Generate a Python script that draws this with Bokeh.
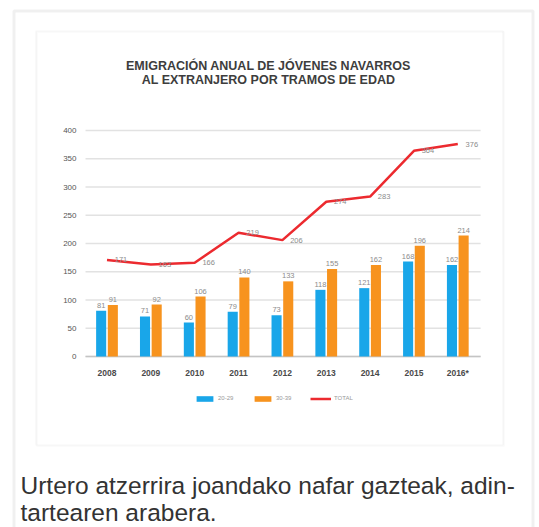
from bokeh.plotting import figure
from bokeh.models import (ColumnDataSource, Range1d, Label, BoxAnnotation,
                          Legend, LegendItem)
from bokeh.transform import dodge
from bokeh.core.properties import value
from bokeh.embed import file_html
from bokeh.resources import INLINE

# ---- data ----
years = ["2008", "2009", "2010", "2011", "2012", "2013", "2014", "2015", "2016*"]
age_20_29 = [81, 71, 60, 79, 73, 118, 121, 168, 162]
age_30_39 = [91, 92, 106, 140, 133, 155, 162, 196, 214]
total = [171, 163, 166, 219, 206, 274, 283, 364, 376]
y_ticks = [0, 50, 100, 150, 200, 250, 300, 350, 400]
series_names = ["20-29", "30-39", "TOTAL"]
title_lines = ["EMIGRACIÓN ANUAL DE JÓVENES NAVARROS",
               "AL EXTRANJERO POR TRAMOS DE EDAD"]
caption_lines = ["Urtero atzerrira joandako nafar gazteak, adin-",
                 "tartearen arabera."]

BLUE = "#19a6e9"
ORANGE = "#f7931e"
RED = "#ec2a2f"
FONT = "Liberation Sans"

W, H = 539, 527
PX_X = 43.85          # pixels per category step
PX_Y = 0.565          # pixels per unit of value
X0_PAGE, Y0_PAGE = 106.5, 356.0   # page position of first category / zero

pos = list(range(len(years)))
src = ColumnDataSource(dict(
    x=pos, year=years,
    a=age_20_29, a_s=[str(v) for v in age_20_29],
    b=age_30_39, b_s=[str(v) for v in age_30_39],
    t=total, t_s=[str(v) for v in total],
))

p = figure(width=W, height=H,
           x_range=Range1d(-X0_PAGE / PX_X, (W - X0_PAGE) / PX_X),
           y_range=Range1d(-(H - Y0_PAGE) / PX_Y, Y0_PAGE / PX_Y),
           x_axis_location=None, y_axis_location=None,
           output_backend="svg", toolbar_location=None,
           min_border=0)
p.outline_line_color = None
p.grid.visible = False
p.background_fill_color = "white"
p.border_fill_color = "white"

# frames (screen units: from bottom-left of the canvas)
p.add_layout(BoxAnnotation(left=13.5, right=532.5, top=H - 10.5, bottom=-10,
                           left_units="screen", right_units="screen",
                           top_units="screen", bottom_units="screen",
                           fill_alpha=0, line_color="#cdcdcd", line_width=3,
                           level="underlay"))
p.add_layout(BoxAnnotation(left=36.5, right=503.5, top=H - 31.5, bottom=H - 445.5,
                           left_units="screen", right_units="screen",
                           top_units="screen", bottom_units="screen",
                           fill_alpha=0, line_color="#f2f2f2", line_width=2,
                           level="underlay"))
p.add_layout(BoxAnnotation(left=35.5, right=502.5, top=H - 30.5, bottom=H - 444.5,
                           left_units="screen", right_units="screen",
                           top_units="screen", bottom_units="screen",
                           fill_alpha=0, line_color="#e2e2e2", line_width=1.2,
                           level="underlay"))

# grid lines and value axis labels
gx0 = pos[0] - 0.49
gx1 = pos[-1] + 0.52
grid_src = ColumnDataSource(dict(y=y_ticks, s=[str(v) for v in y_ticks]))
p.segment(x0=gx0, x1=gx1, y0="y", y1="y", source=grid_src,
          line_color="#e2e2e2", line_width=1.3)
p.segment(x0=gx0, x1=gx1, y0=y_ticks[0], y1=y_ticks[0],
          line_color="#c4c4c4", line_width=1.5)
p.text(x=gx0, y="y", text="s", source=grid_src, x_offset=-9,
       text_font=value(FONT), text_font_size="8px", text_color="#555555",
       text_align="right", text_baseline="middle")

# category labels
p.text(x="x", y=y_ticks[0], text="year", source=src, y_offset=16,
       text_font=value(FONT), text_font_size="8.5px", text_font_style="bold",
       text_color="#4a4a4a", text_align="center", text_baseline="middle")

# bars
rb = p.vbar(x=dodge("x", -0.133), top="a", width=0.23, source=src,
            fill_color=BLUE, line_color=None)
ro = p.vbar(x=dodge("x", 0.133), top="b", width=0.23, source=src,
            fill_color=ORANGE, line_color=None)
for col, lab, off in (("a", "a_s", -0.133), ("b", "b_s", 0.133)):
    p.text(x=dodge("x", off), y=col, text=lab, source=src,
           text_font=value(FONT), text_font_size="7.5px", text_color="#8c8c8c",
           text_align="center", text_baseline="bottom", y_offset=-3)

# total line
rl = p.line(x="x", y="t", source=src, line_color=RED, line_width=2.5)
p.text(x="x", y="t", text="t_s", source=src, text_font=value(FONT),
       text_font_size="7.5px", text_color="#8c8c8c", text_align="center",
       text_baseline="middle", x_offset=14, y_offset=0)

# legend
legend = Legend(items=[LegendItem(label=series_names[0], renderers=[rb]),
                       LegendItem(label=series_names[1], renderers=[ro]),
                       LegendItem(label=series_names[2], renderers=[rl])],
                location=(194, H - 402), orientation="horizontal",
                glyph_width=21, glyph_height=7, label_height=8,
                label_text_font=FONT, label_text_font_size="6px",
                label_text_color="#999999", padding=0, margin=0, spacing=14,
                label_standoff=3, border_line_color=None,
                background_fill_alpha=0)
p.add_layout(legend)

# title
for i, t in enumerate(title_lines):
    p.add_layout(Label(x=268, y=H - 65 - 14 * i, x_units="screen", y_units="screen",
                       text=t, text_align="center", text_baseline="middle",
                       text_font=FONT, text_font_size="12.5px",
                       text_font_style="bold", text_color="#3d3d3d"))

# caption
for i, t in enumerate(caption_lines):
    p.add_layout(Label(x=20, y=H - 485 - 27 * i, x_units="screen", y_units="screen",
                       text=t, text_align="left", text_baseline="alphabetic",
                       text_font=FONT, text_font_size="24.5px",
                       text_color="#333333"))

open("out.html", "w").write(file_html(p, INLINE))
